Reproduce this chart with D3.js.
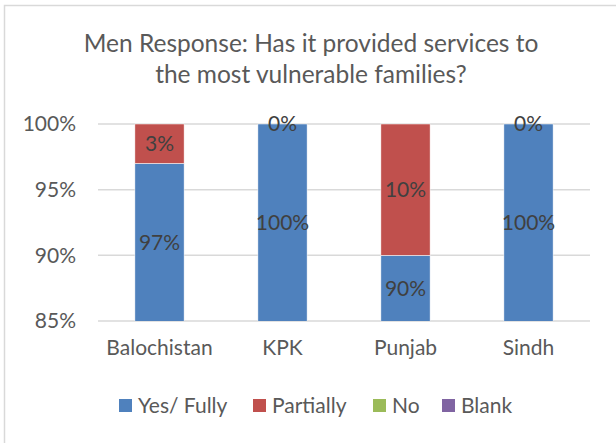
<!DOCTYPE html>
<html>
<head>
<meta charset="utf-8">
<script src="https://cdn.jsdelivr.net/npm/d3@7"></script>
<style>
  body { margin: 0; background: #fff; }
  text { font-family: Lato, "Open Sans", sans-serif; fill: #595959; }
</style>
</head>
<body>
<svg id="chart" width="616" height="443"></svg>
<script>
// chart data
var regions = ['Balochistan', 'KPK', 'Punjab', 'Sindh'];
var seriesNames = ['Yes/ Fully', 'Partially', 'No', 'Blank'];
var yesFully = [0.97, 1.00, 0.90, 1.00];
var partially = [0.03, 0.00, 0.10, 0.00];
var no = [0, 0, 0, 0];
var blank = [0, 0, 0, 0];
var yTicks = [0.85, 0.90, 0.95, 1.00];
var titleLines = ['Men Response: Has it provided services to', 'the most vulnerable families?'];

var colors = ['#4F81BD', '#C0504D', '#9BBB59', '#8064A2'];
var allSeries = [yesFully, partially, no, blank];

var svg = d3.select('#chart');

// outer border
svg.append('rect')
  .attr('x', 4.5).attr('y', 5.5)
  .attr('width', 640).attr('height', 460)
  .attr('fill', 'none')
  .attr('stroke', '#D9D9D9')
  .attr('stroke-width', 1.5);

var plotLeft = 98, plotRight = 590, plotTop = 124, plotBottom = 321;

var x = d3.scaleBand().domain(regions).range([plotLeft, plotRight]).paddingInner(0.6).paddingOuter(0.3);
var y = d3.scaleLinear().domain([0.85, 1.0]).range([plotBottom, plotTop]);

// title
svg.append('text')
  .attr('x', 311).attr('y', 52)
  .attr('text-anchor', 'middle')
  .style('font-size', '24.5px')
  .selectAll('tspan')
  .data(titleLines)
  .enter().append('tspan')
  .attr('x', 311)
  .attr('dy', function(d, i) { return i === 0 ? 0 : 31; })
  .text(function(d) { return d; });

// gridlines
svg.append('g')
  .selectAll('line')
  .data(yTicks)
  .enter().append('line')
  .attr('x1', plotLeft).attr('x2', plotRight)
  .attr('y1', function(d) { return y(d); })
  .attr('y2', function(d) { return y(d); })
  .attr('stroke', '#D9D9D9')
  .attr('stroke-width', 1.5);

// y axis labels
var yAxis = d3.axisLeft(y).tickValues(yTicks).tickFormat(d3.format('.0%')).tickSize(0).tickPadding(0);
var yg = svg.append('g').attr('transform', 'translate(76,0)').call(yAxis);
yg.select('.domain').remove();
yg.selectAll('text').style('font-size', '21px').attr('fill', '#595959').style('font-family', 'Lato, sans-serif');

// stacked data
var stackRows = regions.map(function(r, i) {
  var row = { region: r };
  seriesNames.forEach(function(s, j) { row[s] = allSeries[j][i]; });
  return row;
});
var stacked = d3.stack().keys(seriesNames)(stackRows);

svg.append('clipPath').attr('id', 'plotClip')
  .append('rect').attr('x', plotLeft).attr('y', plotTop - 1).attr('width', plotRight - plotLeft).attr('height', plotBottom - plotTop + 1);

var layers = svg.append('g').attr('clip-path', 'url(#plotClip)')
  .selectAll('g')
  .data(stacked)
  .enter().append('g')
  .attr('fill', function(d, i) { return colors[i]; });

layers.selectAll('rect')
  .data(function(d) { return d; })
  .enter().append('rect')
  .attr('x', function(d) { return x(d.data.region); })
  .attr('width', x.bandwidth())
  .attr('y', function(d) { return y(d[1]); })
  .attr('height', function(d) { return Math.max(0, y(d[0]) - y(d[1])); })
  .attr('stroke', '#fff')
  .attr('stroke-width', 0.5);

// data labels (Yes/ Fully and Partially only)
var labelLayers = stacked.slice(0, 2);
labelLayers.forEach(function(layer) {
  svg.append('g')
    .selectAll('text')
    .data(layer)
    .enter().append('text')
    .attr('x', function(d) { return x(d.data.region) + x.bandwidth() / 2; })
    .attr('y', function(d) {
      var lo = Math.max(d[0], 0.85), hi = Math.min(d[1], 1.0);
      return (y(lo) + y(hi)) / 2;
    })
    .attr('dy', '0.35em')
    .attr('text-anchor', 'middle')
    .style('font-size', '21px')
    .style('fill', '#404040')
    .text(function(d) { return d3.format('.0%')(d[1] - d[0]); });
});

// category labels
var xAxis = d3.axisBottom(x).tickSize(0).tickPadding(0);
var xg = svg.append('g').attr('transform', 'translate(0,' + 340 + ')').call(xAxis);
xg.select('.domain').remove();
xg.selectAll('text').style('font-size', '21px').attr('fill', '#595959').style('font-family', 'Lato, sans-serif');

// legend
var legendX = [119, 253, 373, 442];
var legend = svg.append('g')
  .selectAll('g')
  .data(seriesNames)
  .enter().append('g')
  .attr('transform', function(d, i) { return 'translate(' + legendX[i] + ',399)'; });
legend.append('rect')
  .attr('width', 13).attr('height', 13)
  .attr('fill', function(d, i) { return colors[i]; });
legend.append('text')
  .attr('x', 19).attr('y', 14)
  .style('font-size', '21px')
  .text(function(d) { return d; });
</script>
</body>
</html>
